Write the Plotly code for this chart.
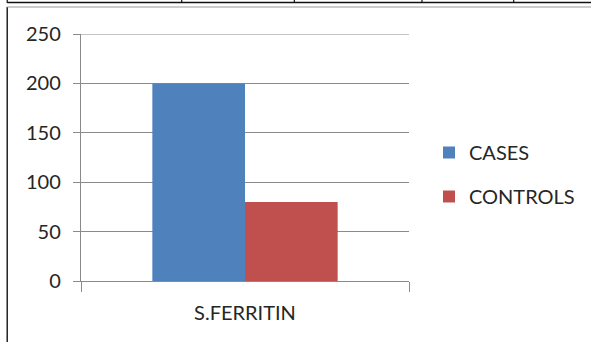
import plotly.graph_objects as go

categories = ["S.FERRITIN"]
cases = [200]
controls = [80]
y_ticks = [0, 50, 100, 150, 200, 250]

W, H = 591, 342
L, R, T, B = 81, 410, 34, 281  # plot area pixel edges


def px(x):
    return (x - L) / (R - L)


def py(y):
    return (B - y) / (B - T)


FONT = "Lato, 'Open Sans', sans-serif"
GRID = "#8a8a8a"
TXT = "#262626"

fig = go.Figure()
fig.add_trace(go.Bar(name="CASES", x=categories, y=cases, marker=dict(color="#4f81bd", line=dict(width=0)),
                     legendgroup="a"))
fig.add_trace(go.Bar(name="CONTROLS", x=categories, y=controls, marker=dict(color="#c0504d", line=dict(width=0)),
                     legendgroup="b"))

shapes = []
# top gridline at the upper range edge
shapes.append(dict(type="line", xref="paper", yref="y", x0=0, x1=1, y0=y_ticks[-1], y1=y_ticks[-1],
                   line=dict(color=GRID, width=1.2), layer="below"))
# outer frame of the chart (left edge and top edge)
shapes.append(dict(type="line", xref="paper", yref="paper", x0=px(7), x1=px(7), y0=py(7), y1=py(345),
                   line=dict(color="#222", width=1.5)))
shapes.append(dict(type="line", xref="paper", yref="paper", x0=px(7), x1=px(595), y0=py(7), y1=py(7),
                   line=dict(color="#9a9a9a", width=1.2)))
# table strip at top
shapes.append(dict(type="line", xref="paper", yref="paper", x0=px(7), x1=px(595), y0=py(2.5), y1=py(2.5),
                   line=dict(color="#111", width=1.5)))
for xv in [7, 182, 295, 423, 515]:
    shapes.append(dict(type="line", xref="paper", yref="paper", x0=px(xv), x1=px(xv), y0=py(-2), y1=py(3),
                       line=dict(color="#111", width=1.2)))

fig.update_layout(
    width=W, height=H,
    margin=dict(l=L, r=W - R, t=T, b=H - B, pad=0),
    paper_bgcolor="white", plot_bgcolor="white",
    barmode="group", bargap=0.435, bargroupgap=0,
    font=dict(family=FONT, size=20, color=TXT),
    showlegend=True,
    legend=dict(x=px(429), y=py(133), xanchor="left", yanchor="top",
                traceorder="grouped", tracegroupgap=15,
                font=dict(size=20, color=TXT), bgcolor="rgba(0,0,0,0)",
                itemwidth=30),
    shapes=shapes,
)
fig.update_yaxes(range=[0, 250], tickvals=y_ticks, showgrid=True, gridcolor=GRID, gridwidth=1.2,
                 zeroline=False, showline=True, linecolor=GRID, linewidth=1.4,
                 ticks="outside", ticklen=7, tickcolor=GRID, tickwidth=1.2,
                 ticklabelstandoff=8, tickfont=dict(size=20, family=FONT, color=TXT))
fig.update_xaxes(range=[-0.5, 0.5], showline=True, linecolor=GRID, linewidth=1.2,
                 ticks="outside", tickson="boundaries", ticklen=10, tickcolor=GRID, tickwidth=1.2,
                 showgrid=False, tickfont=dict(size=20, family=FONT, color=TXT),
                 ticklabelstandoff=14)

fig.write_html("out.html")
